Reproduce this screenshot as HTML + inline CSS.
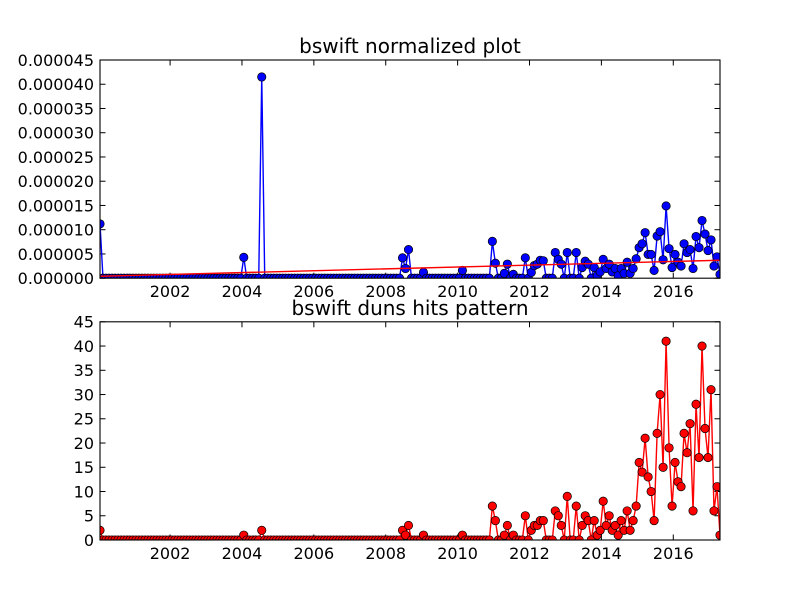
<!DOCTYPE html>
<html><head><meta charset="utf-8"><style>
body{margin:0;background:#fff;}
svg{display:block;font-family:"DejaVu Sans","Liberation Sans",sans-serif;}
</style></head><body>
<svg id="fig" width="800" height="600" viewBox="0 0 800 600" xmlns="http://www.w3.org/2000/svg">
<rect width="800" height="600" fill="#fff"/>
</svg>
<script>
// ---- data ----
const nMonths = 208; // Jan 2000 .. Apr 2017, monthly
const startYear = 2000.05;
const xTickYears = [2002, 2004, 2006, 2008, 2010, 2012, 2014, 2016];
const topTickLabels = ["0.000000","0.000005","0.000010","0.000015","0.000020","0.000025","0.000030","0.000035","0.000040","0.000045"];
const topTickValues = [0,5,10,15,20,25,30,35,40,45]; // in 1e-6 units
const botTickValues = [0,5,10,15,20,25,30,35,40,45];
// normalized series (units of 1e-6), sparse: month index -> value
const normMonths = [0,48,54,101,102,103,108,121,131,132,135,136,138,142,144,145,146,147,148,152,153,154,156,159,161,162,163,165,166,167,168,169,170,171,172,173,174,175,176,177,178,179,180,181,182,183,184,185,186,187,188,189,190,191,192,193,194,195,196,197,198,199,200,201,202,203,204,205,206,207];
const normValues = [11.2,4.3,41.5,4.2,2.0,5.9,1.2,1.6,7.6,3.1,1.0,2.9,0.8,4.2,1.2,2.6,2.9,3.7,3.6,5.3,3.9,2.9,5.3,5.3,2.2,3.5,2.9,2.2,0.5,1.3,3.9,2.0,2.9,1.3,2.0,0.5,2.0,1.0,3.3,1.0,2.0,4.0,6.3,7.1,9.4,4.9,4.9,1.6,8.7,9.6,3.8,14.9,6.1,2.2,4.9,3.3,2.5,7.1,5.3,5.9,2.0,8.6,6.3,11.9,9.1,5.7,7.9,2.5,4.4,0.8];
// trend line endpoints (1e-6 units)
const trendValues = [0.4, 3.7];
// hits series, sparse
const hitMonths = [0,48,54,101,102,103,108,121,131,132,135,136,138,142,144,145,146,147,148,152,153,154,156,159,161,162,163,165,166,167,168,169,170,171,172,173,174,175,176,177,178,179,180,181,182,183,184,185,186,187,188,189,190,191,192,193,194,195,196,197,198,199,200,201,202,203,204,205,206,207];
const hitValues = [2,1,2,2,1,3,1,1,7,4,1,3,1,5,2,3,3,4,4,6,5,3,9,7,3,5,4,4,1,2,8,3,5,2,3,1,4,2,6,2,4,7,16,14,21,13,10,4,22,30,15,41,19,7,16,12,11,22,18,24,6,28,17,40,23,17,31,6,11,1];

function dense(months, vals){const a=new Array(nMonths).fill(0);months.forEach((m,i)=>a[m]=vals[i]);return a;}
const normSeries = dense(normMonths, normValues);
const hitSeries = dense(hitMonths, hitValues);

const NS="http://www.w3.org/2000/svg";
const svg=document.getElementById('fig');
function mk(tag,attrs,parent){const e=document.createElementNS(NS,tag);for(const k in attrs)e.setAttribute(k,attrs[k]);(parent||svg).appendChild(e);return e;}

const L=100,R=720;
function xScale(m){return L+(R-L)*m/(nMonths-1);}
function yearToMonth(y){return (y-startYear)*12;}

function drawAxes(top,bottom,ymax,ticks,labels,title,name){
  const g=mk('g',{});
  
  
  const ys=v=>bottom-(bottom-top)*v/ymax;
  ticks.forEach((v,i)=>{
    const y=ys(v);
    mk('line',{x1:L,x2:L+5.5,y1:y,y2:y,stroke:'#000','stroke-width':1},g);
    mk('line',{x1:R,x2:R-5.5,y1:y,y2:y,stroke:'#000','stroke-width':1},g);
    const t=mk('text',{x:94,y:y+5.8,'text-anchor':'end','font-size':16,fill:'#000'},g);
    t.textContent=labels[i];
    
    
  });
  xTickYears.forEach(yr=>{
    const x=xScale(yearToMonth(yr));
    mk('line',{x1:x,x2:x,y1:bottom,y2:bottom-5.5,stroke:'#000','stroke-width':1},g);
    mk('line',{x1:x,x2:x,y1:top,y2:top+5.5,stroke:'#000','stroke-width':1},g);
    const t=mk('text',{x:x,y:bottom+19,'text-anchor':'middle','font-size':16,fill:'#000'},g);
    t.textContent=String(yr);
    
    
  });
  const tt=mk('text',{x:(L+R)/2,y:top-7,'text-anchor':'middle','font-size':20,fill:'#000'},g);
  tt.textContent=title;
  
  
  return ys;
}
function drawSeries(series,ys,color,name,clip){
  const g=mk('g',{'clip-path':clip});
  
  
  const pts=series.map((v,i)=>xScale(i).toFixed(2)+','+ys(v).toFixed(2)).join(' ');
  mk('polyline',{points:pts,fill:'none',stroke:color,'stroke-width':1.4},g);
  series.forEach((v,i)=>{
    const c=mk('circle',{cx:xScale(i),cy:ys(v),r:4.2,fill:color,stroke:'#000','stroke-width':0.7},g);
    
    
  });
}
const defs=mk('defs',{});
const c1=mk('clipPath',{id:'c1'},defs);mk('rect',{x:L,y:60,width:R-L,height:218.2},c1);
const c2=mk('clipPath',{id:'c2'},defs);mk('rect',{x:L,y:321.8,width:R-L,height:218.2},c2);

const ysTop=drawAxes(60,278.2,45,topTickValues,topTickLabels,'bswift normalized plot','normalized-plot');
drawSeries(normSeries,ysTop,'#0000ff','normalized-series','url(#c1)');
const tl=mk('line',{x1:xScale(0),y1:ysTop(trendValues[0]),x2:xScale(nMonths-1),y2:ysTop(trendValues[1]),stroke:'#ff0000','stroke-width':1.4,'clip-path':'url(#c1)'});


const f1=mk('rect',{x:L,y:60,width:R-L,height:218.2,fill:'none',stroke:'#000','stroke-width':1.1});



const ysBot=drawAxes(321.8,540,45,botTickValues,botTickValues.map(String),'bswift duns hits pattern','hits-plot');
drawSeries(hitSeries,ysBot,'#ff0000','hits-series','url(#c2)');
const f2=mk('rect',{x:L,y:321.8,width:R-L,height:218.2,fill:'none',stroke:'#000','stroke-width':1.1});


</script>
</body></html>
